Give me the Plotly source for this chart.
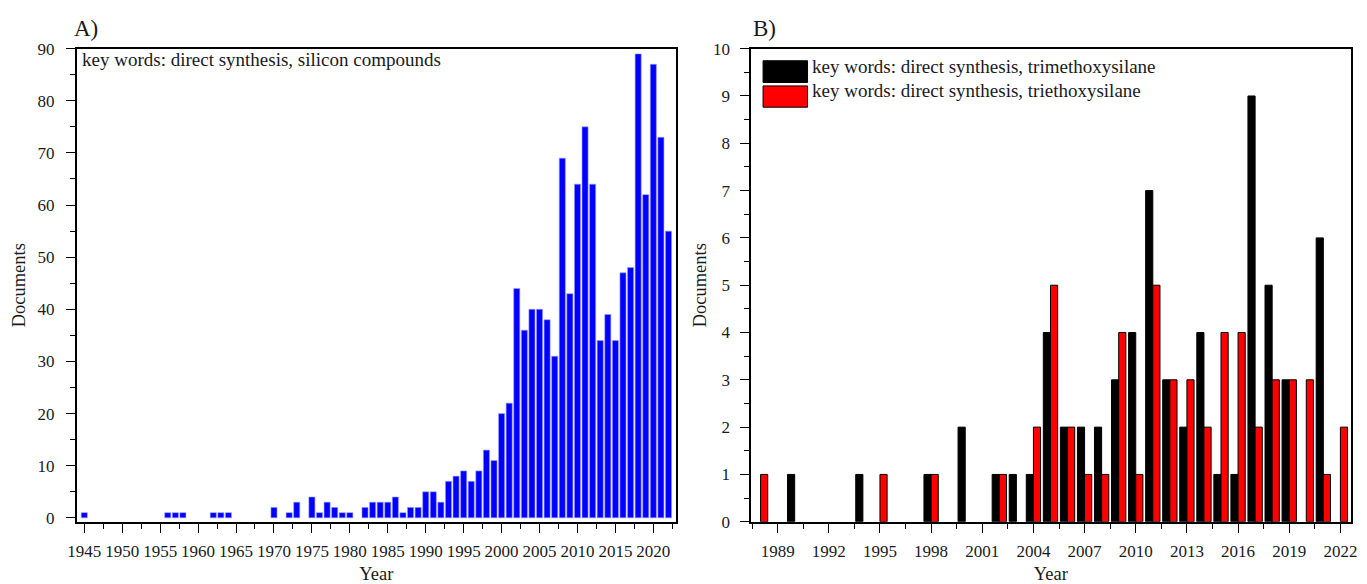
import plotly.graph_objects as go

# ---------------- Data ----------------
years_a = list(range(1945, 2023))
docs_a = [1, 0, 0, 0, 0, 0, 0, 0, 0, 0,            # 1945-1954
          0, 1, 1, 1, 0, 0, 0, 1, 1, 1,            # 1955-1964
          0, 0, 0, 0, 0, 2, 0, 1, 3, 0,            # 1965-1974
          4, 1, 3, 2, 1, 1, 0, 2, 3, 3,            # 1975-1984
          3, 4, 1, 2, 2, 5, 5, 3, 7, 8,            # 1985-1994
          9, 7, 9, 13, 11, 20, 22, 44, 36, 40,     # 1995-2004
          40, 38, 31, 69, 43, 64, 75, 64, 34, 39,  # 2005-2014
          34, 47, 48, 89, 62, 87, 73, 55]          # 2015-2022

years_b = list(range(1988, 2023))
trimethoxy = [0, 0, 1, 0, 0, 0, 1, 0, 0, 0,        # 1988-1997
              1, 0, 2, 0, 1, 1, 1, 4, 2, 2,        # 1998-2007
              2, 3, 4, 7, 3, 2, 4, 1, 1, 9,        # 2008-2017
              5, 3, 0, 6, 0]                       # 2018-2022
triethoxy = [1, 0, 0, 0, 0, 0, 0, 1, 0, 0,         # 1988-1997
             1, 0, 0, 0, 1, 0, 2, 5, 2, 1,         # 1998-2007
             1, 4, 1, 5, 3, 3, 2, 4, 4, 2,         # 2008-2017
             3, 3, 3, 1, 2]                        # 2018-2022

xticks_a = list(range(1945, 2021, 5))
xticks_b = list(range(1989, 2023, 3))

label_a = "key words: direct synthesis, silicon compounds"
label_b1 = "key words: direct synthesis, trimethoxysilane"
label_b2 = "key words: direct synthesis, triethoxysilane"

# ---------------- Figure ----------------
W, H = 1367, 584
FONT = "Liberation Serif, Times New Roman, serif"
TXT = "#1a1a1a"


def px(x):
    return x / W


def py(y):
    return 1 - y / H


def nz(vals):
    # zero counts are simply not drawn (avoids outline slivers on the baseline)
    return [v if v else None for v in vals]


fig = go.Figure()

fig.add_trace(go.Bar(x=years_a, y=nz(docs_a), width=0.8, xaxis="x", yaxis="y",
                     marker=dict(color="#0000ff", line=dict(color="#9a9aff", width=0.6)),
                     showlegend=False, name=label_a))
fig.add_trace(go.Bar(x=years_b, y=nz(trimethoxy), width=0.42, offset=-0.42, xaxis="x2", yaxis="y2",
                     marker=dict(color="#000000", line=dict(color="#000000", width=1)),
                     showlegend=False, name=label_b1))
fig.add_trace(go.Bar(x=years_b, y=nz(triethoxy), width=0.42, offset=0.0, xaxis="x2", yaxis="y2",
                     marker=dict(color="#ff0000", line=dict(color="#000000", width=1)),
                     showlegend=False, name=label_b2))

axis_common = dict(showline=True, linecolor="#000000", linewidth=1.6, mirror=True,
                   ticks="outside", tickcolor="#000000", tickwidth=1.4, ticklen=9,
                   showgrid=False, zeroline=False,
                   tickfont=dict(family=FONT, size=17, color=TXT))
minor_common = dict(ticks="outside", ticklen=5, tickwidth=1.4, tickcolor="#000000")
title_font = dict(family=FONT, size=18.5, color=TXT)

fig.update_layout(
    width=W, height=H,
    margin=dict(l=0, r=0, t=0, b=0),
    paper_bgcolor="white", plot_bgcolor="white",
    barmode="overlay",
    font=dict(family=FONT, color=TXT),
    xaxis=dict(domain=[px(68.5), px(675)], range=[1944, 2023],
               tickmode="array", tickvals=xticks_a, anchor="y",
               minor=dict(dtick=2.5, tick0=1945, **minor_common),
               ticklabelstandoff=4,
               title=dict(text="Year", font=title_font, standoff=7),
               **axis_common),
    yaxis=dict(domain=[py(530), py(41)], range=[-0.75, 90], dtick=10, tick0=0, anchor="x",
               minor=dict(dtick=5, tick0=0, **minor_common),
               ticklabelstandoff=8,
               title=dict(text="Documents", font=title_font, standoff=7),
               **axis_common),
    xaxis2=dict(domain=[px(751), px(1357.5)], range=[1987.45, 2022.6],
                tickmode="array", tickvals=xticks_b, anchor="y2",
                minor=dict(dtick=1.5, tick0=1987.5, **minor_common),
                ticklabelstandoff=4,
                title=dict(text="Year", font=title_font, standoff=7),
                **axis_common),
    yaxis2=dict(domain=[py(530), py(41)], range=[0, 10], dtick=1, tick0=0, anchor="x2",
                minor=dict(dtick=0.5, tick0=0, **minor_common),
                ticklabelstandoff=7,
                title=dict(text="Documents", font=title_font, standoff=2),
                **axis_common),
)

annots = [
    dict(text="A)", x=px(64), y=py(20), xanchor="left", yanchor="middle",
         font=dict(size=23)),
    dict(text="B)", x=px(751), y=py(20), xanchor="left", yanchor="middle",
         font=dict(size=23)),
    dict(text=label_a, x=px(72), y=py(52), xanchor="left", yanchor="middle",
         font=dict(size=19)),
    dict(text=label_b1, x=px(810), y=py(59), xanchor="left", yanchor="middle",
         font=dict(size=19)),
    dict(text=label_b2, x=px(810), y=py(84), xanchor="left", yanchor="middle",
         font=dict(size=19)),
]
for a in annots:
    a.update(xref="paper", yref="paper", showarrow=False)
    a["font"].update(family=FONT, color=TXT)
fig.update_layout(annotations=annots)

# legend swatches for panel B
fig.update_layout(shapes=[
    dict(type="rect", xref="paper", yref="paper", x0=px(763), x1=px(808), y0=py(76), y1=py(53.5),
         fillcolor="#000000", line=dict(color="#000000", width=1)),
    dict(type="rect", xref="paper", yref="paper", x0=px(763), x1=px(808), y0=py(101.5), y1=py(79.5),
         fillcolor="#ff0000", line=dict(color="#000000", width=1)),
])

fig.write_html("out.html")
